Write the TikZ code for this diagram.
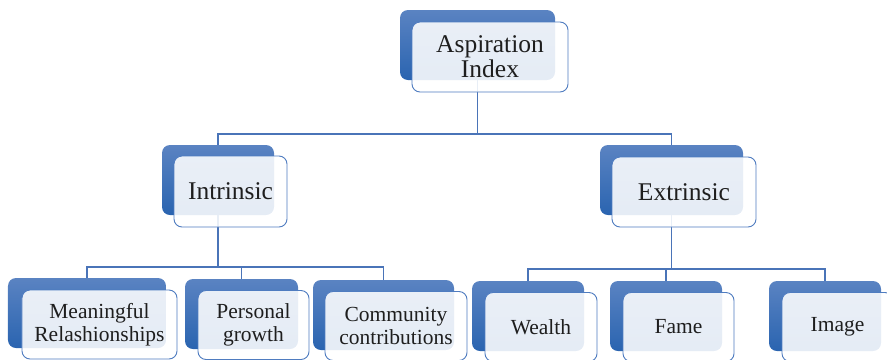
\documentclass[tikz,border=0pt]{standalone}
\usepackage{fontspec}
\setmainfont{Liberation Serif}
\definecolor{linkblue}{HTML}{4A74B8}
\definecolor{boxedge}{HTML}{4F7CC0}
\definecolor{darktop}{HTML}{5A83C2}
\definecolor{darkbot}{HTML}{2A64B0}
\definecolor{txt}{HTML}{1E1E1E}
\tikzset{
  darkbox/.style={rounded corners=8bp, top color=darktop, bottom color=darkbot, draw=none, inner sep=0pt},
  lightbox/.style={rounded corners=8bp, draw=boxedge, line width=0.9bp, fill=white, fill opacity=0.88, text opacity=1, text=txt, align=center, inner sep=0pt},
  bigtext/.style={font=\fontsize{25.5bp}{25bp}\selectfont},
  smalltext/.style={font=\fontsize{21.5bp}{23bp}\selectfont},
  link/.style={draw=linkblue, line width=1.1bp}
}
\begin{document}
\begin{tikzpicture}[x=1bp,y=-1bp]
\useasboundingbox (0,0) rectangle (887,359);
\clip (0,0) rectangle (887,359);
% dark boxes (behind)
\node[darkbox, minimum width=155bp, minimum height=70bp] (dTop) at (477.5,45) {};
\node[darkbox, minimum width=112bp, minimum height=70bp] (dInt) at (218,180) {};
\node[darkbox, minimum width=143bp, minimum height=70bp] (dExt) at (671.5,180) {};
\node[darkbox, minimum width=158bp, minimum height=70bp] (dMea) at (87,313) {};
\node[darkbox, minimum width=113bp, minimum height=70bp] (dPer) at (241.5,314) {};
\node[darkbox, minimum width=141bp, minimum height=70bp] (dCom) at (383.5,315) {};
\node[darkbox, minimum width=112bp, minimum height=70bp] (dWea) at (528,316) {};
\node[darkbox, minimum width=112bp, minimum height=70bp] (dFam) at (666,316) {};
\node[darkbox, minimum width=112bp, minimum height=70bp] (dIma) at (825,316) {};
% bus coordinates
\coordinate (busA) at (0,134);
\coordinate (busB) at (0,267);
\coordinate (busC) at (0,269);
% connectors
\begin{scope}[on background layer/.style={}]
\draw[link] (dTop.south) -- (dTop.south |- busA) -| (dInt.north);
\draw[link] (dTop.south |- busA) -| (dExt.north);
\draw[link] (dInt.south) -- (dInt.south |- busB) -| (dMea.north);
\draw[link] (dInt.south |- busB) -| (dPer.north);
\draw[link] (dInt.south |- busB) -| (dCom.north);
\draw[link] (dExt.south) -- (dExt.south |- busC) -| (dWea.north);
\draw[link] (dExt.south |- busC) -| (dFam.north);
\draw[link] (dExt.south |- busC) -| (dIma.north);
\end{scope}
% light boxes with text
\node[lightbox, bigtext, minimum width=156bp, minimum height=70bp] (lTop) at (490,57) {Aspiration\\Index};
\node[lightbox, bigtext, minimum width=113bp, minimum height=71bp] (lInt) at (230.5,191.5) {Intrinsic};
\node[lightbox, bigtext, minimum width=144bp, minimum height=70bp] (lExt) at (684,192) {Extrinsic};
\node[lightbox, smalltext, minimum width=155bp, minimum height=69bp] (lMea) at (99.5,324.5) {Meaningful\\Relashionships};
\node[lightbox, smalltext, minimum width=111bp, minimum height=69bp] (lPer) at (253.5,325) {Personal\\growth};
\node[lightbox, smalltext, minimum width=142bp, minimum height=69bp] (lCom) at (396,326) {Community\\contributions};
\node[lightbox, smalltext, minimum width=112bp, minimum height=69bp] (lWea) at (541,327) {Wealth};
\node[lightbox, smalltext, minimum width=111bp, minimum height=69bp] (lFam) at (678.5,327) {Fame};
\node[lightbox, smalltext, minimum width=111bp, minimum height=69bp] (lIma) at (837.5,327) {Image};
\end{tikzpicture}
\end{document}
